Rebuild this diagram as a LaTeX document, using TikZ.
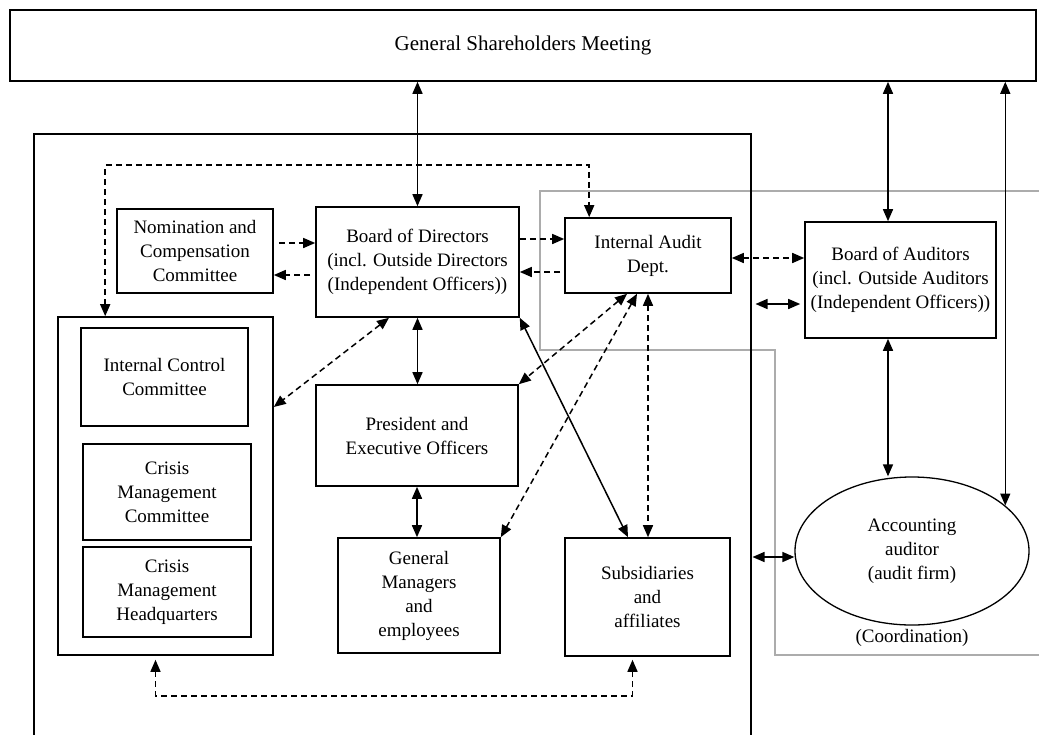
\documentclass[tikz,border=0pt]{standalone}
\usepackage{fontspec}
\setmainfont{Liberation Serif}
\usetikzlibrary{calc,positioning,arrows.meta,shapes.geometric}

\begin{document}
\begin{tikzpicture}[x=1pt, y=-1pt,
      box/.style={draw, line width=1.6pt, align=center, inner sep=1pt, font=\fontsize{19}{24}\selectfont},
      frame/.style={draw, line width=1.5pt},
      zone/.style={draw=gray!65, line width=1.3pt},
      arr/.style={{Triangle[length=12pt,width=10pt]}-{Triangle[length=12pt,width=10pt]}, line width=1.5pt},
      onearr/.style={-{Triangle[length=12pt,width=10pt]}, line width=1.5pt},
      dsh/.style={dash pattern=on 6pt off 4pt}
    ]
    \useasboundingbox (0,0) rectangle (1039,734);
    \clip (0,0) rectangle (1039,734);

    % Gray audit zone
    \draw[zone] (1045,191) -- (540,191) -- (540,350) -- (775,350) -- (775,655) -- (1045,655);

    % Top row and company frame
    \node[box, minimum width=1026pt, minimum height=71pt, font=\fontsize{21}{25}\selectfont] (gsm) at (523,45.5) {General Shareholders Meeting};
    \node[frame, minimum width=717pt, minimum height=640pt, anchor=north west] (company) at (33,133) {};

    % Row 1
    \node[box, minimum width=156pt, minimum height=84pt] (nomination) at (195,251) {Nomination and\\Compensation\\Committee};
    \node[box, minimum width=203pt, minimum height=110pt] (board) at (417.5,262) {Board of Directors\\(incl. Outside Directors\\(Independent Officers))};
    \node[box, minimum width=166pt, minimum height=75pt] (audit) at (648,255.5) {Internal Audit\\Dept.};
    \node[box, minimum width=191pt, minimum height=116pt] (auditors) at (900.5,280) {Board of Auditors\\(incl. Outside Auditors\\(Independent Officers))};

    % Committees column
    \node[box, minimum width=215pt, minimum height=338pt] (committees) at (165.5,486) {};
    \node[box, minimum width=167pt, minimum height=98pt] (control) at (164.5,377) {Internal Control\\Committee};
    \node[box, minimum width=168pt, minimum height=96pt] (crisiscom) at (167,492) {Crisis\\Management\\Committee};
    \node[box, minimum width=168pt, minimum height=90pt] (crisishq) at (167,592) {Crisis\\Management\\Headquarters};

    % Row 2 & 3
    \node[box, minimum width=202pt, minimum height=101pt] (president) at (417,435.5) {President and\\Executive Officers};
    \node[box, minimum width=162pt, minimum height=115pt] (managers) at (419,595.5) {General\\Managers\\and\\employees};
    \node[box, minimum width=165pt, minimum height=118pt] (subsidiaries) at (647.5,597) {Subsidiaries\\and\\affiliates};
    \node[box, ellipse, minimum width=234pt, minimum height=148pt, line width=1.3pt] (accounting) at (912,551) {Accounting\\auditor\\(audit firm)};
    \node[font=\fontsize{19}{24}\selectfont] (coordination) at (912,638) {(Coordination)};

    % Arrows from the shareholders
    \draw[arr] (board.north |- gsm.south) -- (board.north);
    \draw[arr] ([xshift=-12.5pt]auditors.north |- gsm.south) -- ([xshift=-12.5pt]auditors.north);
    \draw[arr] (accounting.26.6 |- gsm.south) -- (accounting.26.6);
    \draw[arr] ([xshift=-12.5pt]auditors.south) -- ([xshift=-12.5pt]auditors.south |- accounting.north);

    % Dashed links along row 1
    \draw[onearr, dsh, shorten <=5pt] ([yshift=8pt]nomination.east) -- ([yshift=8pt]nomination.east -| board.west);
    \draw[onearr, dsh, shorten <=5pt] ([yshift=-24pt]nomination.east -| board.west) -- ([yshift=-24pt]nomination.east);
    \draw[onearr, dsh] ([yshift=23pt]board.east) -- ([yshift=23pt]board.east -| audit.west);
    \draw[onearr, dsh, shorten <=4pt] ([yshift=-10pt]board.east -| audit.west) -- ([yshift=-10pt]board.east);
    \draw[arr, dsh] ([yshift=-2.5pt]audit.east) -- ([yshift=-2.5pt]audit.east -| auditors.west);

    % Company frame to auditors
    \draw[arr, shorten <=4pt, shorten >=4pt] ([yshift=-24pt]auditors.west -| company.east) -- ([yshift=-24pt]auditors.west);
    \draw[arr, shorten <=1pt] ([yshift=-6pt]accounting.west -| company.east) -- ([yshift=-6pt]accounting.west);

    % Loops
    \draw[arr, dsh] ([xshift=48pt]committees.north west) -- ++(0,-151) -| ([xshift=25pt]audit.north west);
    \draw[arr, dsh, shorten <=4pt, shorten >=3pt] ([xshift=-10pt]committees.south) -- ++(0,40) -| ([xshift=-15pt]subsidiaries.south);

    % Inner links
    \draw[arr, dsh] ([xshift=-28.5pt]board.south) -- ([yshift=79pt]committees.east);
    \draw[arr] (board.south) -- (board.south |- president.north);
    \draw[arr] (president.south) -- (president.south |- managers.north);
    \draw[arr] (board.south east) -- ([xshift=-19.5pt]subsidiaries.north);
    \draw[arr, dsh] ([xshift=-21pt]audit.south) -- (president.north east);
    \draw[arr, dsh] ([xshift=-11pt]audit.south) -- (managers.north east);
    \draw[arr, dsh] (audit.south) -- (audit.south |- subsidiaries.north);
  \end{tikzpicture}
\end{document}
